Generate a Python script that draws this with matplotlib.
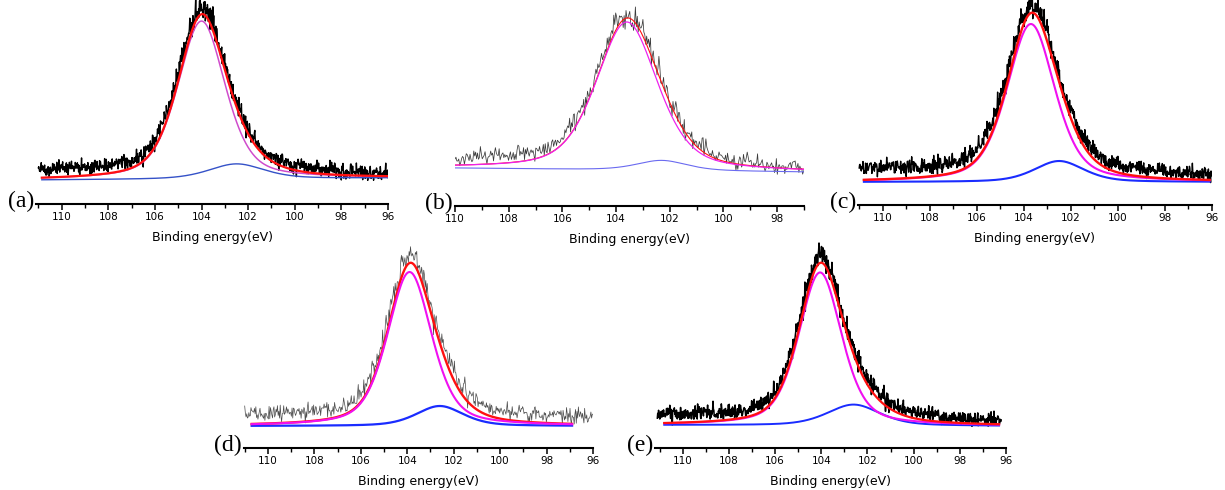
"""
XPS Si 2p spectra, panels (a)-(e): raw counts + two-component fit
"""

import numpy as np
import matplotlib
matplotlib.use("Agg")
import matplotlib.pyplot as plt
from matplotlib.ticker import MultipleLocator

# ── Data (intensities in a.u.) ───────────────────────────────────────────────
PANELS        = ["(a)", "(b)", "(c)", "(d)", "(e)"]
XLIM          = [(111.1, 96.0), (110.0, 97.0), (111.05, 96.0), (111.03, 96.0), (111.2, 96.0)]
RAW_RANGE     = [(111.0, 96.0), (110.0, 97.0), (111.0, 96.0), (111.0, 96.0), (111.1, 96.2)]
FIT_RANGE     = [(110.85, 96.0), (110.0, 97.0), (110.8, 96.1), (110.7, 96.9), (110.8, 96.3)]
MAIN_CENTER   = [104.0, 103.6, 103.7, 103.9, 104.05]
MAIN_HEIGHT   = [158, 148, 158, 154, 153]
MAIN_FWHM     = [2.4, 2.7, 2.4, 2.25, 2.2]
MINOR_CENTER  = [102.5, 102.3, 102.5, 102.6, 102.6]
MINOR_HEIGHT  = [15, 10, 21, 20, 21]
MINOR_FWHM    = [2.8, 2.2, 2.5, 2.4, 2.7]
BG_LEFT       = [0, 4, 0, 0, 0]
BG_RIGHT      = [2, 0, 0, 0, -1]
RAW_OFFSET_L  = [10, 8, 12, 10, 9]
RAW_OFFSET_R  = [3, 2, 6, 8, 4]
NOISE_LEVEL   = [3.8, 4.0, 3.6, 3.8, 3.6]
RAW_STEP      = [0.018, 0.035, 0.018, 0.03, 0.018]

# ── Layout (figure pixels: left, right, bottom axis line, top) ───────────────
W, H = 1225, 490
BOX = [(36, 388, 204, 0), (455, 804, 206, 0), (858, 1212, 205, 0),
       (244, 593, 448, 240), (655, 1006, 448, 240)]
GAP = [24, 34, 23, 22, 23]        # baseline height above the axis line, px
XLABEL_X = [212, 630, 1035, 418, 830]

# per panel styles: raw colour/width, line widths, colours, red drawn on top?
STYLE = [
    dict(raw="black", rlw=1.0, red=1.6, mag=1.1, blu=1.0, bc="#3552c8", mc="#d04ccc", top=True),
    dict(raw="#3a3a3a", rlw=0.55, red=0.8, mag=0.9, blu=0.8, bc="#6a6af0", mc="#ee22ee", top=False),
    dict(raw="black", rlw=1.0, red=1.7, mag=1.5, blu=1.5, bc="#1a2cff", mc="#f010f0", top=True),
    dict(raw="#4a4a4a", rlw=0.5, red=1.7, mag=1.5, blu=1.6, bc="#1a2cff", mc="#f010f0", top=False),
    dict(raw="black", rlw=1.1, red=1.6, mag=1.5, blu=1.4, bc="#1a2cff", mc="#f010f0", top=True),
]

rng = np.random.default_rng(7)   # counting noise texture of the raw trace only


def pvoigt(x, c, h, w, eta=0.45):
    u = (x - c) / w
    return h * (eta / (1 + 4 * u**2) + (1 - eta) * np.exp(-4 * np.log(2) * u**2))


def linear(x, x0, x1, v0, v1):
    return v0 + (v1 - v0) * (x - x0) / (x1 - x0)


fig = plt.figure(figsize=(W / 100, H / 100), dpi=100, facecolor="white")

for i in range(5):
    l, r, b, t = BOX[i]
    ax = fig.add_axes([l / W, 1 - b / H, (r - l) / W, (b - t) / H])
    st = STYLE[i]
    x0, x1 = XLIM[i]

    # raw spectrum
    xr = np.arange(RAW_RANGE[i][0], RAW_RANGE[i][1] - 1e-9, -RAW_STEP[i])
    bg = linear(xr, x0, x1, BG_LEFT[i], BG_RIGHT[i])
    fit = bg + pvoigt(xr, MAIN_CENTER[i], MAIN_HEIGHT[i], MAIN_FWHM[i]) \
             + pvoigt(xr, MINOR_CENTER[i], MINOR_HEIGHT[i], MINOR_FWHM[i])
    off = linear(xr, x0, x1, RAW_OFFSET_L[i], RAW_OFFSET_R[i])
    sig = NOISE_LEVEL[i] * np.sqrt(1 + (fit - bg) / 70)
    raw = fit + off + rng.normal(0, 1, xr.size) * sig
    ax.plot(xr, raw, color=st["raw"], lw=st["rlw"], zorder=1)

    # fitted components
    xf = np.linspace(FIT_RANGE[i][0], FIT_RANGE[i][1], 600)
    bgf = linear(xf, x0, x1, BG_LEFT[i], BG_RIGHT[i])
    p1 = pvoigt(xf, MAIN_CENTER[i], MAIN_HEIGHT[i], MAIN_FWHM[i])
    p2 = pvoigt(xf, MINOR_CENTER[i], MINOR_HEIGHT[i], MINOR_FWHM[i])
    zr, zm = (4, 3) if st["top"] else (3, 4)
    ax.plot(xf, bgf + p2, color=st["bc"], lw=st["blu"], zorder=2)
    ax.plot(xf, bgf + p1, color=st["mc"], lw=st["mag"], zorder=zm)
    ax.plot(xf, bgf + p1 + p2, color="#ff1010", lw=st["red"], zorder=zr)

    ax.set_xlim(x0, x1)
    ax.set_ylim(-GAP[i], (b - t) - GAP[i])
    for s in ["left", "right", "top"]:
        ax.spines[s].set_visible(False)
    ax.spines["bottom"].set_linewidth(1.5)
    ax.set_yticks([])
    ax.xaxis.set_major_locator(MultipleLocator(2))
    ax.xaxis.set_minor_locator(MultipleLocator(1))
    ax.tick_params(axis="x", which="major", direction="out", length=4, width=1.1,
                   labelsize=7.5, pad=1.5)
    ax.tick_params(axis="x", which="minor", direction="out", length=3, width=1.0)
    ax.patch.set_alpha(0)

    fig.text(XLABEL_X[i] / W, 1 - (b + 33) / H, "Binding energy(eV)",
             ha="center", va="center", fontsize=9, family="DejaVu Sans")
    fig.text((l - 2) / W, 1 - (b - 3) / H, PANELS[i], ha="right", va="center",
             fontsize=17, family="Liberation Serif")

fig.savefig("out.png", dpi=100, facecolor="white")
